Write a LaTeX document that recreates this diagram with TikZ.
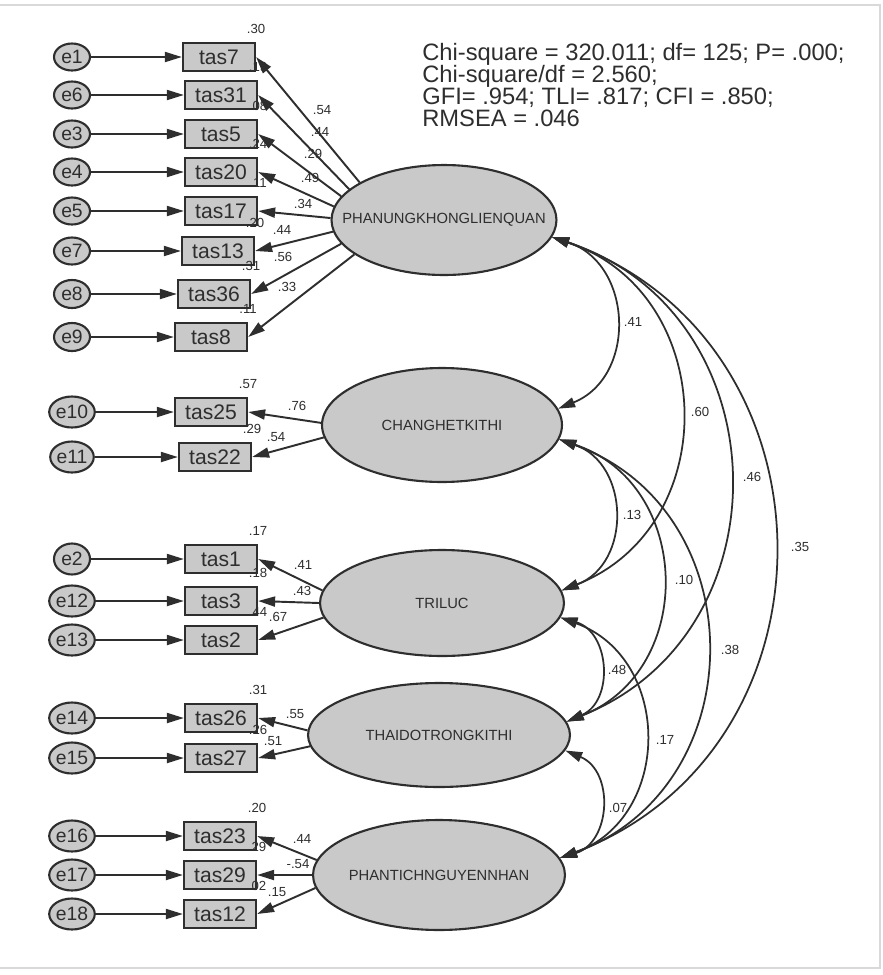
\documentclass[tikz,border=0pt]{standalone}
\usepackage{fontspec}
\setmainfont{Liberation Sans}
\usetikzlibrary{arrows.meta,shapes.geometric}
\definecolor{ink}{HTML}{2E2E2E}
\definecolor{shade}{HTML}{C9C9C9}
\definecolor{frame}{HTML}{D9D9D9}

\begin{document}
\begin{tikzpicture}[x=0.02cm, y=-0.02cm,
    err/.style={ellipse, draw=ink, fill=shade, line width=1.2pt, minimum width=0.72cm, inner sep=0pt, text=ink, font=\fontsize{11}{11}\selectfont},
    obs/.style={rectangle, draw=ink, fill=shade, line width=1.3pt, minimum width=1.44cm, minimum height=0.56cm, inner sep=0pt, text=ink, font=\fontsize{12}{12}\selectfont},
    lat/.style={ellipse, draw=ink, fill=shade, line width=1.2pt, inner sep=0pt, label={[text=ink, font=\fontsize{8.4}{8.4}\selectfont]center:#1}},
    est/.style={inner sep=0pt, text=ink, font=\fontsize{7.5}{7.5}\selectfont},
    arr/.style={-{Triangle[length=0.34cm, width=0.2cm]}, line width=1.1pt, draw=ink},
    cov/.style={{Triangle[length=0.34cm, width=0.2cm]}-{Triangle[length=0.34cm, width=0.2cm]}, line width=1pt, draw=ink, bend left=70, looseness=1.27}]

    \useasboundingbox (0,0) rectangle (883,975);

    % Page frame
    \draw[frame, line width=1.2pt] (0,5) -- (880,5) -- (880,968) -- (0,968);

    % Latent factors
    \node[lat={PHANUNGKHONGLIENQUAN}, minimum width=4.5cm, minimum height=2.2cm] (phan) at (444,220) {};
    \node[lat={CHANGHETKITHI}, minimum width=4.8cm, minimum height=2.28cm] (chang) at (442,425) {};
    \node[lat={TRILUC}, minimum width=4.88cm, minimum height=2.12cm] (tri) at (442,603) {};
    \node[lat={THAIDOTRONGKITHI}, minimum width=5.24cm, minimum height=2.08cm] (thai) at (439,735) {};
    \node[lat={PHANTICHNGUYENNHAN}, minimum width=5.04cm, minimum height=2.2cm] (pt) at (439,875) {};

    % Observed items, error terms and squared multiple correlations
    \foreach \item/\x/\y/\e/\h/\r in {tas7/219/57/e1/0.54/.30, tas31/221/95/e6/0.54/.19, tas5/221/134/e3/0.54/.08,
        tas20/221/172/e4/0.54/.24, tas17/221/211/e5/0.54/.11, tas13/218/251/e7/0.54/.20, tas36/214/294/e8/0.56/.31,
        tas8/211/337/e9/0.56/.11, tas25/211/412/e10/0.62/.57, tas22/215/457/e11/0.62/.29, tas1/221/559/e2/0.62/.17,
        tas3/221/601/e12/0.62/.18, tas2/221/640/e13/0.62/.44, tas26/221/718/e14/0.62/.31, tas27/221/758/e15/0.62/.26,
        tas23/220/836/e16/0.62/.20, tas29/220/875/e17/0.62/.29, tas12/220/914/e18/0.62/.02} {
        \node[obs] (\item) at (\x,\y) {\item};
        \node[err, minimum height=\h cm] (\e) at (72,\y) {\e};
        \node[est, anchor=south] (r\item) at ([yshift=4.5pt]\item.north east) {\r};
        \draw[arr] (\e) -- (\item);
    }

    % Factor loadings
    \foreach \f/\a/\item in {phan/156/tas7, phan/162/tas31, phan/167/tas5, phan/173/tas20,
        phan/179/tas17, phan/186/tas13, phan/193/tas36, phan/201/tas8,
        chang/179/tas25, chang/186/tas22, tri/174/tas1, tri/180/tas3, tri/187/tas2,
        thai/178/tas26, thai/185/tas27, pt/173/tas23, pt/180/tas29, pt/186/tas12} {
        \draw[arr] (\f.\a) -- (\item.east);
    }

    % Loading estimates
    \foreach \n/\x/\y/\t in {w1/322/110/.54, w2/320/132/.44, w3/313/154/.29, w4/310/178/.49,
        w5/303/204/.34, w6/282/230/.44, w7/283/257/.56, w8/287/287/.33,
        w9/297/406/.76, w10/276/437/.54, w11/303/565/.41, w12/302/591/.43, w13/278/617/.67,
        w14/295/714/.55, w15/273/741/.51, w16/302/839/.44, w17/298/864/-.54, w18/277/892/.15} {
        \node[est] (\n) at (\x,\y) {\t};
    }

    % Correlations between factors
    \draw[cov] (phan.-9) to (chang.8);
    \draw[cov] (phan.-9) to (tri.6);
    \draw[cov] (phan.-9) to (thai.6);
    \draw[cov] (phan.-9) to (pt.8);
    \draw[cov] (chang.-7) to (tri.6);
    \draw[cov] (chang.-7) to (thai.6);
    \draw[cov] (chang.-7) to (pt.8);
    \draw[cov] (tri.-7) to (thai.6);
    \draw[cov] (tri.-7) to (pt.8);
    \draw[cov] (thai.-7) to (pt.8);

    \foreach \n/\x/\y/\t in {c1/633/322/.41, c2/700/412/.60, c3/752/477/.46, c4/800/547/.35,
        c5/632/515/.13, c6/684/580/.10, c7/730/650/.38, c8/617/670/.48, c9/665/740/.17, c10/618/808/.07} {
        \node[est] (\n) at (\x,\y) {\t};
    }

    % Fit indices
    \node[anchor=north west, align=left, inner sep=0pt, text=ink, font=\fontsize{13.5}{12.6}\selectfont] (gof) at (422,43)
        {Chi-square = 320.011; df= 125; P= .000;\\Chi-square/df = 2.560;\\GFI= .954; TLI= .817; CFI = .850;\\RMSEA = .046};

\end{tikzpicture}
\end{document}
